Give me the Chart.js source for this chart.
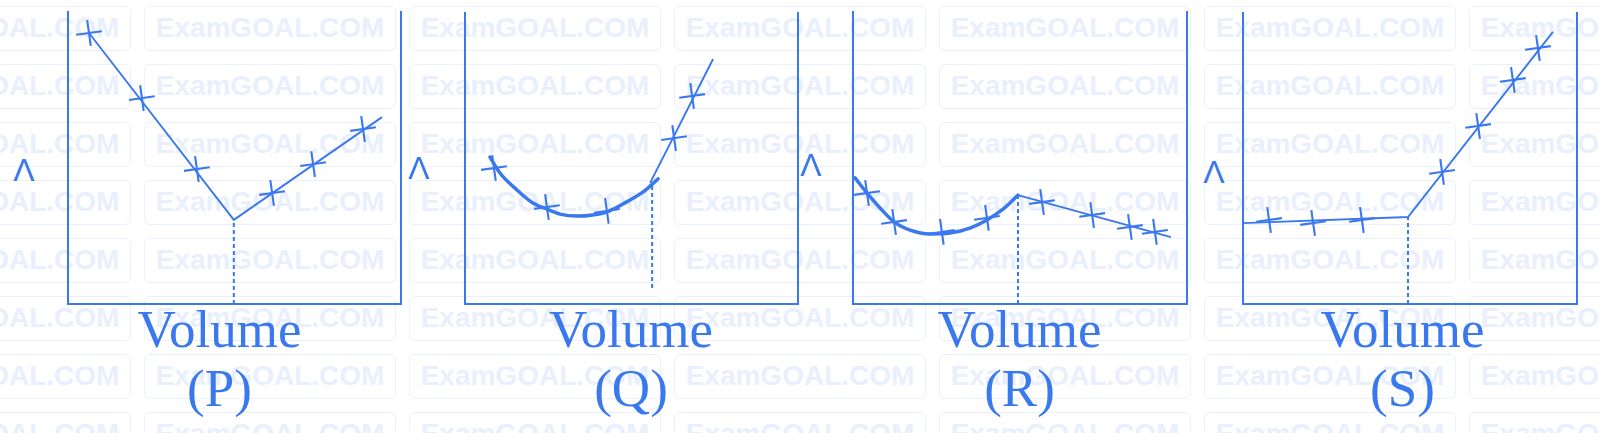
<!DOCTYPE html>
<html>
<head>
<meta charset="utf-8">
<script src="https://cdn.jsdelivr.net/npm/chart.js@4.4.1/dist/chart.umd.min.js"></script>
<style>
  html, body { margin: 0; padding: 0; background: #fff; }
  #wrap { position: relative; width: 1600px; height: 433px; overflow: hidden; background: #fff; }
  .wm { position: absolute; width: 252px; height: 45px; box-sizing: border-box;
        border: 1.5px solid #eaf0fc; border-radius: 6px;
        font: bold 28px "Liberation Sans", Arial, sans-serif; color: #e9effc;
        text-align: center; line-height: 42px; white-space: nowrap; }
  canvas { position: absolute; top: 0; }
  .lam { position: absolute; font: 32px "Liberation Sans", Arial, sans-serif; color: #3a78ee;
         transform: translate(-50%, -50%); line-height: 1; }
</style>
</head>
<body>
<div id="wrap"></div>
<script>
// ---------------- data ----------------
const panelLabels = ['(P)', '(Q)', '(R)', '(S)'];
const xTitle = 'Volume';
const yTitle = 'Λ';
const watermarkText = 'ExamGOAL.COM';

// (P)
const pLineX  = [6.3, 49.8, 94.3];
const pLineY  = [92.8, 28.8, 64.0];
const pCrossX = [6.3, 22.2, 38.7, 61.3, 73.6, 88.6];
const pCrossY = [92.8, 70.5, 46.2, 38.0, 47.9, 59.9];
const pDashX  = [49.8, 49.8];
const pDashY  = [0, 28.8];

// (Q)
const qCurveX = [7.5, 10.5, 15.6, 20.4, 24.6, 28.5, 33.6, 38.4, 42.6, 48.6, 53.5, 58.0];
const qCurveY = [50.5, 45.0, 39.2, 34.7, 32.6, 30.9, 30.2, 30.6, 31.6, 35.1, 38.5, 43.0];
const qLineX  = [55.6, 74.5];
const qLineY  = [41.6, 84.2];
const qCrossX = [8.7, 24.6, 42.6, 62.8, 68.2];
const qCrossY = [46.7, 33.3, 32.0, 57.0, 71.5];
const qDashX  = [56.2, 56.2];
const qDashY  = [5.5, 41.0];

// (R)
const rCurveX = [0.6, 4.2, 8.1, 12.3, 17.1, 23.1, 29.0, 35.0, 40.1, 44.9, 49.4];
const rCurveY = [43.2, 38.0, 32.9, 28.1, 25.3, 24.0, 24.3, 26.0, 28.8, 32.5, 37.3];
const rLineX  = [49.4, 95.2];
const rLineY  = [37.3, 22.9];
const rCrossX = [4.2, 12.3, 26.6, 40.1, 56.6, 71.6, 82.9, 90.4];
const rCrossY = [38.0, 28.1, 24.7, 29.5, 34.9, 30.5, 26.4, 24.7];
const rDashX  = [49.4, 49.4];
const rDashY  = [0, 37.3];

// (S)
const sLineX  = [0, 49.4, 92.8];
const sLineY  = [27.8, 29.9, 93.5];
const sCrossX = [7.8, 21.0, 35.6, 59.6, 70.4, 80.8, 88.3];
const sCrossY = [28.9, 27.8, 28.9, 45.4, 61.2, 77.0, 88.0];
const sDashX  = [49.4, 49.4];
const sDashY  = [0, 29.9];

// ---------------- styling / layout ----------------
const BLUE = '#3a78ee';
const wrap = document.getElementById('wrap');

// watermark tiles (background decoration)
const wmCols = [-121, 144, 409, 674, 939, 1204, 1469];
for (let r = 0; r < 8; r++) {
  for (const cx of wmCols) {
    const d = document.createElement('div');
    d.className = 'wm';
    d.style.left = cx + 'px';
    d.style.top = (6 + r * 57.95) + 'px';
    d.textContent = watermarkText;
    wrap.appendChild(d);
  }
}

const pts = (xs, ys) => xs.map((x, i) => ({ x: x, y: ys[i] }));

const lineDs = (xs, ys) => ({ data: pts(xs, ys), borderColor: BLUE, borderWidth: 1.9,
  pointRadius: 0, tension: 0, fill: false });
const curveDs = (xs, ys) => ({ data: pts(xs, ys), borderColor: BLUE, borderWidth: 3.5,
  pointRadius: 0, cubicInterpolationMode: 'monotone', fill: false, borderCapStyle: 'round' });
const crossDs = (xs, ys) => ({ data: pts(xs, ys), showLine: false, pointStyle: 'cross',
  pointRadius: 13, pointBorderWidth: 2.1, pointBorderColor: BLUE, pointBackgroundColor: BLUE,
  pointRotation: -8 });
const dashDs = (xs, ys) => ({ data: pts(xs, ys), borderColor: BLUE, borderWidth: 2,
  borderDash: [4, 3], pointRadius: 0, fill: false });

const panels = [
  { label: panelLabels[0], left: 28,   width: 383, padL: 40, padR: 10, top: 12, lam: [24, 170],
    datasets: [lineDs(pLineX, pLineY), dashDs(pDashX, pDashY), crossDs(pCrossX, pCrossY)] },
  { label: panelLabels[1], left: 455,  width: 352, padL: 10, padR: 9,  top: 13, lam: [419, 168],
    datasets: [curveDs(qCurveX, qCurveY), lineDs(qLineX, qLineY), dashDs(qDashX, qDashY), crossDs(qCrossX, qCrossY)] },
  { label: panelLabels[2], left: 843,  width: 353, padL: 10, padR: 9,  top: 12, lam: [811, 165],
    datasets: [curveDs(rCurveX, rCurveY), lineDs(rLineX, rLineY), dashDs(rDashX, rDashY), crossDs(rCrossX, rCrossY)] },
  { label: panelLabels[3], left: 1218, width: 369, padL: 25, padR: 10, top: 13, lam: [1214, 172],
    datasets: [lineDs(sLineX, sLineY), dashDs(sDashX, sDashY), crossDs(sCrossX, sCrossY)] }
];

const axisBase = (pos, extra) => Object.assign({
  type: 'linear', position: pos, min: 0, max: 100,
  grid: { display: false, drawTicks: false },
  ticks: { display: false },
  border: { display: true, color: BLUE, width: 2 },
  title: { display: false }
}, extra || {});

for (const p of panels) {
  const lam = document.createElement('div');
  lam.className = 'lam';
  lam.style.left = p.lam[0] + 'px';
  lam.style.top = p.lam[1] + 'px';
  lam.textContent = yTitle;
  wrap.appendChild(lam);

  const cv = document.createElement('canvas');
  cv.width = p.width;
  cv.height = 433;
  cv.style.left = p.left + 'px';
  cv.style.width = p.width + 'px';
  cv.style.height = '433px';
  wrap.appendChild(cv);

  new Chart(cv, {
    type: 'line',
    data: { datasets: p.datasets },
    options: {
      responsive: false,
      animation: false,
      events: [],
      layout: { autoPadding: false, padding: { top: p.top, bottom: 0, left: 0, right: 0 } },
      plugins: {
        legend: { display: false },
        tooltip: { enabled: false },
        title: {
          display: true, position: 'bottom', align: 'center',
          text: [xTitle, p.label], color: BLUE,
          font: { family: '"Liberation Serif", "Times New Roman", serif', size: 53, weight: 'normal', lineHeight: 59 / 53 },
          padding: { top: 0, bottom: 11 }
        }
      },
      scales: {
        x: axisBase('bottom'),
        y: axisBase('left', { afterFit: (s) => { s.width = p.padL; } }),
        y2: axisBase('right', { afterFit: (s) => { s.width = p.padR; } })
      },
      elements: { line: { clip: false } }
    }
  });
}
</script>
</body>
</html>
